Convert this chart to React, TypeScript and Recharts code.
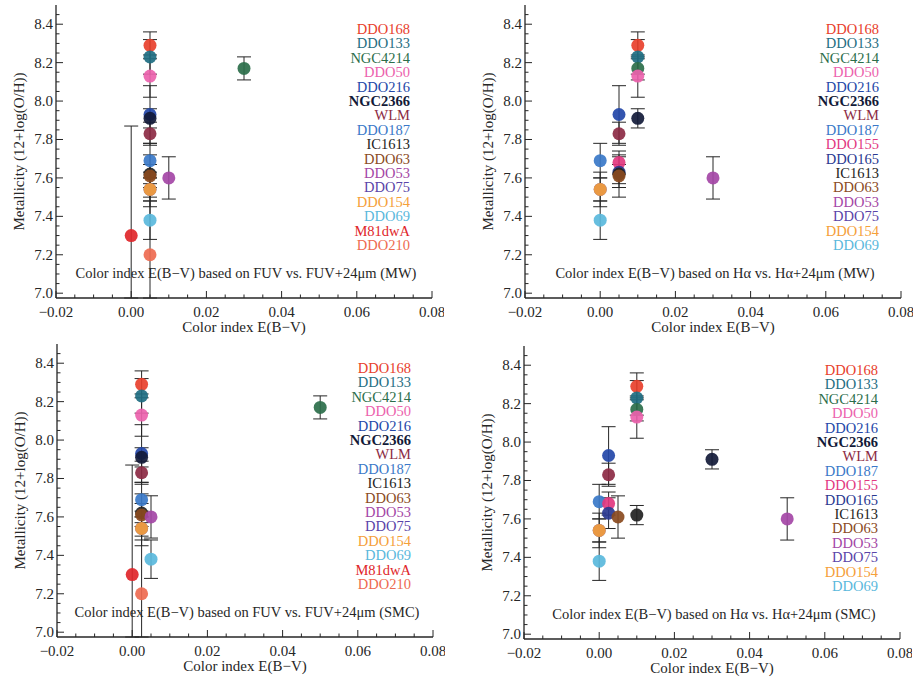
import React from "react"
import { ScatterChart, Scatter, XAxis, YAxis, ErrorBar } from "recharts"

const galaxyNames = [
  "DDO168", "DDO133", "NGC4214", "DDO50", "DDO216", "NGC2366", "WLM", "DDO187", "DDO155",
  "DDO165", "IC1613", "DDO63", "DDO53", "DDO75", "DDO154", "DDO69", "M81dwA", "DDO210",
]
const logOH = [8.29, 8.23, 8.17, 8.13, 7.93, 7.91, 7.83, 7.69, 7.68, 7.63, 7.62, 7.61, 7.6, 7.54, 7.54, 7.38, 7.3, 7.2]
const logOHErr = [0.07, 0.09, 0.06, 0.11, 0.15, 0.05, 0.06, 0.09, 0.06, 0.08, 0.05, 0.11, 0.11, 0.06, 0.09, 0.1, 0.57, 0.35]
const galaxyColors = [
  "#e8402c", "#1f6e82", "#2b6e4a", "#ec62ad", "#2347a8", "#121a38", "#8c2a44", "#3a78c8", "#e2377f",
  "#2a3890", "#222222", "#8a4a1e", "#a446a6", "#5a44a8", "#f5a03a", "#5ab8dc", "#e0262a", "#ee6a50",
]

const fuvGalaxies = [
  "DDO168", "DDO133", "NGC4214", "DDO50", "DDO216", "NGC2366", "WLM", "DDO187",
  "IC1613", "DDO63", "DDO53", "DDO75", "DDO154", "DDO69", "M81dwA", "DDO210",
]
const haGalaxies = [
  "DDO168", "DDO133", "NGC4214", "DDO50", "DDO216", "NGC2366", "WLM", "DDO187",
  "DDO155", "DDO165", "IC1613", "DDO63", "DDO53", "DDO75", "DDO154", "DDO69",
]

// E(B-V), in the order of the panel's galaxy list
const ebvFuvMw = [0.005, 0.005, 0.03, 0.005, 0.005, 0.005, 0.005, 0.005, 0.005, 0.005, 0.01, 0.005, 0.005, 0.005, 0, 0.005]
const ebvHaMw = [0.01, 0.01, 0.01, 0.01, 0.005, 0.01, 0.005, 0, 0.005, 0.005, 0.005, 0.005, 0.03, 0, 0, 0]
const ebvFuvSmc = [0.0025, 0.0025, 0.05, 0.0025, 0.0025, 0.0025, 0.0025, 0.0025, 0.0025, 0.0025, 0.005, 0.0025, 0.0025, 0.005, 0, 0.0025]
const ebvHaSmc = [0.01, 0.01, 0.01, 0.01, 0.0025, 0.03, 0.0025, 0, 0.0025, 0.0025, 0.01, 0.005, 0.05, 0, 0, 0]

const xTicks = [
  -0.02, -0.015, -0.01, -0.005, 0, 0.005, 0.01, 0.015, 0.02, 0.025, 0.03,
  0.035, 0.04, 0.045, 0.05, 0.055, 0.06, 0.065, 0.07, 0.075, 0.08,
]
const xMajor = [-0.02, 0, 0.02, 0.04, 0.06, 0.08]
const yTicks = [
  7.0, 7.05, 7.1, 7.15, 7.2, 7.25, 7.3, 7.35, 7.4, 7.45, 7.5, 7.55, 7.6, 7.65, 7.7,
  7.75, 7.8, 7.85, 7.9, 7.95, 8.0, 8.05, 8.1, 8.15, 8.2, 8.25, 8.3, 8.35, 8.4, 8.45,
]
const yMajor = [7.0, 7.2, 7.4, 7.6, 7.8, 8.0, 8.2, 8.4]
const X_DOMAIN = [-0.02, 0.08]
const Y_DOMAIN = [6.975, 8.5]

const FONT = '"Liberation Serif", "DejaVu Serif", serif'
const INK = "#262626"
const W = 444
const H = 340
const PLOT = { left: 56, top: 5, width: 376, height: 293 }

const fmtX = (v: number) => (v < 0 ? "\u2212" + Math.abs(v).toFixed(2) : v.toFixed(2))

const BottomTick = (p: any) => {
  const v = p.payload.value
  const major = xMajor.includes(v)
  return (
    <g>
      <line x1={p.x} x2={p.x} y1={p.y} y2={p.y - (major ? 7 : 3.5)} stroke={INK} />
      {major && (
        <text x={p.x} y={p.y + 19} textAnchor="middle" fontFamily={FONT} fontSize={15} fill={INK}>
          {fmtX(v)}
        </text>
      )}
    </g>
  )
}

const TopTick = (p: any) => {
  const major = xMajor.includes(p.payload.value)
  return <line x1={p.x} x2={p.x} y1={p.y} y2={p.y + (major ? 7 : 3.5)} stroke={INK} />
}

const LeftTick = (p: any) => {
  const v = p.payload.value
  const major = yMajor.includes(v)
  return (
    <g>
      <line x1={p.x} x2={p.x + (major ? 7 : 3.5)} y1={p.y} y2={p.y} stroke={INK} />
      {major && (
        <text x={p.x - 3} y={p.y + 5} textAnchor="end" fontFamily={FONT} fontSize={15} fill={INK}>
          {v.toFixed(1)}
        </text>
      )}
    </g>
  )
}

const RightTick = (p: any) => {
  const major = yMajor.includes(p.payload.value)
  return <line x1={p.x} x2={p.x - (major ? 7 : 3.5)} y1={p.y} y2={p.y} stroke={INK} />
}

const Ball = (p: any) => (
  <circle cx={p.cx} cy={p.cy} r={6.5} fill={p.payload?.color ?? p.fill} fillOpacity={0.92} />
)

const NoShape = () => <g />

function Panel({ left, top, galaxies, ebv, note }: { left: number; top: number; galaxies: string[]; ebv: number[]; note: string }) {
  const data = galaxies.map((g, i) => {
    const k = galaxyNames.indexOf(g)
    const y = logOH[k]
    const e = logOHErr[k]
    // error bars are cut at the frame, like the plot window clips them
    return {
      name: g,
      x: ebv[i],
      y,
      errRange: [Math.min(e, y - Y_DOMAIN[0]), Math.min(e, Y_DOMAIN[1] - y)],
      color: galaxyColors[k],
    }
  })
  return (
    <div style={{ position: "absolute", left, top, width: W, height: H }}>
      <ScatterChart width={W} height={H} margin={{ top: PLOT.top, right: W - PLOT.left - PLOT.width, bottom: 0, left: 0 }}>
        <XAxis
          type="number"
          dataKey="x"
          domain={X_DOMAIN}
          allowDataOverflow
          ticks={xTicks}
          interval={0}
          tickSize={0}
          tickMargin={0}
          tickLine={false}
          tick={<BottomTick />}
          height={H - PLOT.top - PLOT.height}
          axisLine={{ stroke: INK, strokeWidth: 1.3 }}
          label={{ value: "Color index E(B\u2212V)", position: "insideBottom", offset: 8, style: { fontFamily: FONT, fontSize: 15, fill: INK } }}
        />
        <XAxis
          xAxisId="top"
          orientation="top"
          type="number"
          domain={X_DOMAIN}
          allowDataOverflow
          ticks={xTicks}
          interval={0}
          tickSize={0}
          tickMargin={0}
          tickLine={false}
          tick={<TopTick />}
          height={0}
          axisLine={{ stroke: INK, strokeWidth: 1.3 }}
        />
        <YAxis
          type="number"
          dataKey="y"
          domain={Y_DOMAIN}
          allowDataOverflow
          ticks={yTicks}
          interval={0}
          tickSize={0}
          tickMargin={0}
          tickLine={false}
          tick={<LeftTick />}
          width={PLOT.left}
          axisLine={{ stroke: INK, strokeWidth: 1.3 }}
          label={{ value: "Metallicity (12+log(O/H))", angle: -90, position: "insideLeft", offset: 19, style: { textAnchor: "middle", fontFamily: FONT, fontSize: 15, fill: INK } }}
        />
        <YAxis
          yAxisId="right"
          orientation="right"
          type="number"
          domain={Y_DOMAIN}
          allowDataOverflow
          ticks={yTicks}
          interval={0}
          tickSize={0}
          tickMargin={0}
          tickLine={false}
          tick={<RightTick />}
          width={0}
          axisLine={{ stroke: INK, strokeWidth: 1.3 }}
        />
        <Scatter data={data} shape={Ball} isAnimationActive={false} />
        <Scatter data={data} shape={NoShape} isAnimationActive={false}>
          <ErrorBar dataKey="errRange" direction="y" width={7} stroke={INK} strokeWidth={1} />
        </Scatter>
      </ScatterChart>
      <svg width={W} height={H} style={{ position: "absolute", left: 0, top: 0, pointerEvents: "none" }}>
        {data.map((d, i) => (
          <text
            key={d.name}
            x={410}
            y={34 + i * 14.4}
            textAnchor="end"
            fontFamily={FONT}
            fontSize={14.5}
            fontWeight={d.name === "NGC2366" ? 700 : 400}
            fill={d.color}
          >
            {d.name}
          </text>
        ))}
        <text x={PLOT.left + PLOT.width / 2 + 2} y={278} textAnchor="middle" fontFamily={FONT} fontSize={14.5} fill={INK}>
          {note}
        </text>
      </svg>
    </div>
  )
}

export default function App() {
  return (
    <div style={{ position: "absolute", left: 0, top: 0, width: 914, height: 679, overflow: "hidden", background: "#fff" }}>
      <Panel left={0} top={0} galaxies={fuvGalaxies} ebv={ebvFuvMw} note={"Color index E(B\u2212V) based on FUV vs. FUV+24\u03bcm (MW)"} />
      <Panel left={469} top={0} galaxies={haGalaxies} ebv={ebvHaMw} note={"Color index E(B\u2212V) based on H\u03b1 vs. H\u03b1+24\u03bcm (MW)"} />
      <Panel left={1} top={339} galaxies={fuvGalaxies} ebv={ebvFuvSmc} note={"Color index E(B\u2212V) based on FUV vs. FUV+24\u03bcm (SMC)"} />
      <Panel left={468} top={341} galaxies={haGalaxies} ebv={ebvHaSmc} note={"Color index E(B\u2212V) based on H\u03b1 vs. H\u03b1+24\u03bcm (SMC)"} />
    </div>
  )
}
